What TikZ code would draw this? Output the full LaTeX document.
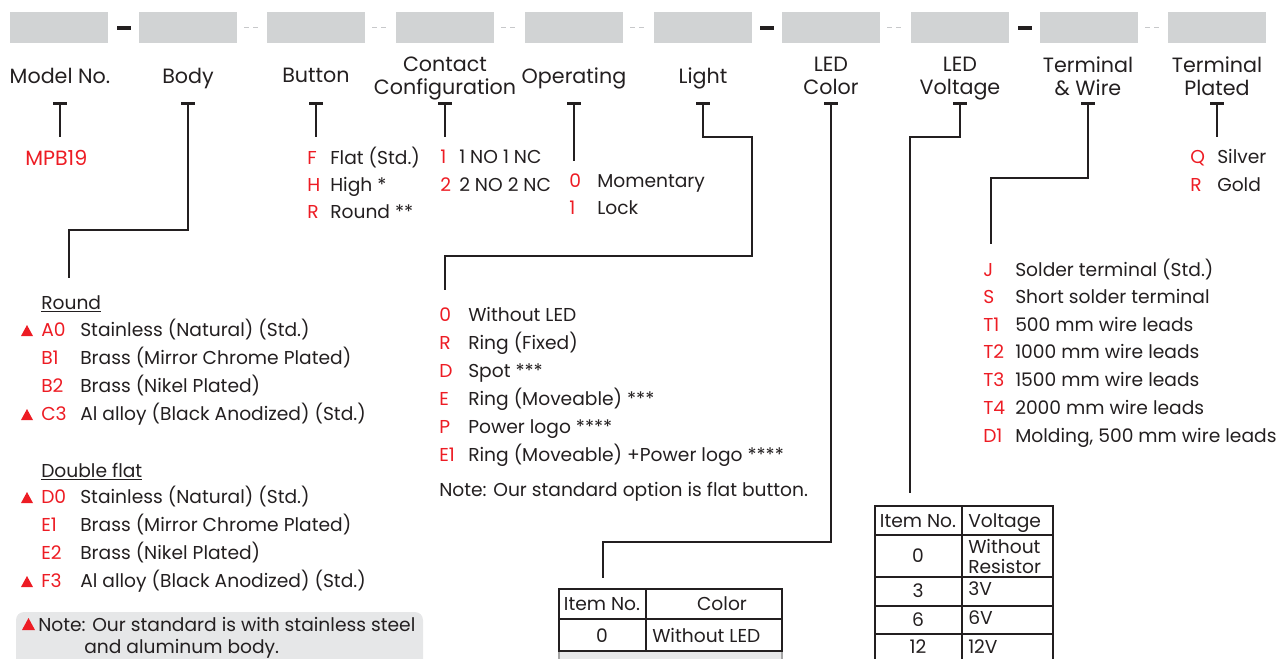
\documentclass[tikz,border=0pt]{standalone}
\usepackage{fontspec}
\setmainfont{Poppins}
\definecolor{myred}{HTML}{ED1C24}
\definecolor{ink}{HTML}{231F20}
\definecolor{barg}{HTML}{D1D3D4}
\definecolor{dashg}{HTML}{C7C8CA}
\definecolor{noteg}{HTML}{E6E7E8}
\newcommand\labfs{\fontsize{15.5pt}{17.25pt}\selectfont}
\newcommand\bodyfs{\fontsize{14pt}{15pt}\selectfont}
\begin{document}
\begin{tikzpicture}[x=0.75pt,y=-0.75pt,
  segbox/.style={fill=barg,draw=none,minimum width=73.5pt,minimum height=23.25pt,inner sep=0pt},
  blackdash/.style={line width=3pt,ink},
  greydash/.style={line width=0.8pt,dashg,dash pattern=on 3.6pt off 3pt},
  lab/.style={text=ink,font=\labfs,align=center,inner sep=0pt,anchor=north},
  code/.style={text=myred,font=\bodyfs,anchor=mid west,inner sep=0pt,yshift=-1.9pt},
  desc/.style={text=ink,font=\bodyfs,anchor=mid west,inner sep=0pt,yshift=-1.9pt},
  tcap/.style={line width=2.25pt,ink},
  conn/.style={line width=1.5pt,ink},
  tab/.style={line width=1.1pt,ink},
  cell/.style={text=ink,font=\bodyfs,inner sep=0pt},
  cellw/.style={text=ink,font=\bodyfs,inner sep=0pt,anchor=mid west,align=left,yshift=-1.9pt},
  redtri/.style={fill=myred}
]
\useasboundingbox (0,0) rectangle (1279,658);
% top bar
\foreach \i/\cx in {1/59,2/188,3/316,4/445,5/574,6/703,7/831,8/960,9/1089,10/1217}{
  \node[segbox] (s\i) at (\cx,27.5) {};
}
\draw[blackdash] (s1.east) ++(9,0) -- ++(14,0);
\draw[blackdash] (s6.east) ++(8,0) -- ++(14,0);
\draw[blackdash] (s8.east) ++(9,0) -- ++(14,0);
\foreach \i in {2,3,4,5,7,9}{
  \draw[greydash] (s\i.east) ++(7,0) -- ++(16,0);
}
% labels
\node[lab] (lmodel) at (60,67.5) {Model No.};
\node[lab] (lbody) at (188,67.5) {Body};
\node[lab] (lbutton) at (316,67.5) {Button};
\node[lab] (lcontact) at (445,56.5) {Contact\\Configuration};
\node[lab] (loper) at (574,67.5) {Operating};
\node[lab] (llight) at (703,67.5) {Light};
\node[lab] (lcolor) at (831,56.5) {LED\\Color};
\node[lab] (lvolt) at (960,56.5) {LED\\Voltage};
\node[lab] (lwire) at (1088,56.5) {Terminal\\\&{} Wire};
\node[lab] (lplated) at (1217,56.5) {Terminal\\Plated};
% T caps
\foreach \n/\cx in {tmodel/60,tbody/188,tbutton/316,tcontact/445,toper/574,tlight/703,tcolor/831,tvolt/960,twire/1088,tplated/1217}{
  \coordinate (\n) at (\cx,103);
  \draw[tcap] (\cx-7,103) -- (\cx+7,103);
}
% end coordinates
\coordinate (emodel) at (60,137);
\coordinate (ebutton) at (316,137);
\coordinate (econtact) at (445,137);
\coordinate (eoper) at (574,161);
\coordinate (eplated) at (1217,137);
\coordinate (kbody) at (69,230);
\coordinate (ebody) at (69,278);
\coordinate (klight1) at (752,137);
\coordinate (klight2) at (445,256);
\coordinate (elight) at (445,290);
\coordinate (kcolor) at (603,542);
\coordinate (ecolor) at (603,578);
\coordinate (kvolt) at (910,137);
\coordinate (evolt) at (910,493);
\coordinate (kwire) at (991,178);
\coordinate (ewire) at (991,244);
\draw[conn] (tmodel) -- (emodel);
\draw[conn] (tbutton) -- (ebutton);
\draw[conn] (tcontact) -- (econtact);
\draw[conn] (toper) -- (eoper);
\draw[conn] (tplated) -- (eplated);
\draw[conn] (tbody) |- (kbody) -- (ebody);
\draw[conn] (tlight) |- (klight1) |- (klight2) -- (elight);
\draw[conn] (tcolor) |- (kcolor) -- (ecolor);
\draw[conn] (tvolt) |- (kvolt) -- (evolt);
\draw[conn] (twire) |- (kwire) -- (ewire);
% Model
\node[code,font=\labfs] (mpb) at (25,159) {MPB19};
% Button
\node[code] (bF) at (307,158) {F}; \node[desc] (bFd) at (330,158) {Flat (Std.)};
\node[code] (bH) at (307,185) {H}; \node[desc] (bHd) at (330,185) {High *};
\node[code] (bR) at (307,212) {R}; \node[desc] (bRd) at (330,212) {Round **};
% Contact
\node[code] (c1) at (440,157) {1}; \node[desc] (c1d) at (459,157) {1 NO 1 NC};
\node[code] (c2) at (440,185) {2}; \node[desc] (c2d) at (459,185) {2 NO 2 NC};
% Operating
\node[code] (o0) at (569,181) {0}; \node[desc] (o0d) at (597,181) {Momentary};
\node[code] (o1) at (569,208) {1}; \node[desc] (o1d) at (597,208) {Lock};
% Plated
\node[code] (pQ) at (1190,157) {Q}; \node[desc] (pQd) at (1217,157) {Silver};
\node[code] (pR) at (1190,185) {R}; \node[desc] (pRd) at (1217,185) {Gold};
% Body
\node[desc] (hround) at (41,303) {\underline{Round}};
\fill[redtri] (21,336) -- (33,336) -- (27,325) -- cycle;
\node[code] (A0) at (41,330) {A0}; \node[desc] (A0d) at (80,330) {Stainless (Natural) (Std.)};
\node[code] (B1) at (41,358) {B1}; \node[desc] (B1d) at (80,358) {Brass (Mirror Chrome Plated)};
\node[code] (B2) at (41,386) {B2}; \node[desc] (B2d) at (80,386) {Brass (Nikel Plated)};
\fill[redtri] (21,420) -- (33,420) -- (27,409) -- cycle;
\node[code] (C3) at (41,414) {C3}; \node[desc] (C3d) at (80,414) {Al alloy (Black Anodized) (Std.)};
\node[desc] (hdouble) at (41,471) {\underline{Double flat}};
\fill[redtri] (21,503) -- (33,503) -- (27,492) -- cycle;
\node[code] (D0) at (41,497) {D0}; \node[desc] (D0d) at (80,497) {Stainless (Natural) (Std.)};
\node[code] (E1b) at (41,525) {E1}; \node[desc] (E1bd) at (80,525) {Brass (Mirror Chrome Plated)};
\node[code] (E2b) at (41,553) {E2}; \node[desc] (E2bd) at (80,553) {Brass (Nikel Plated)};
\fill[redtri] (21,587) -- (33,587) -- (27,576) -- cycle;
\node[code] (F3) at (41,581) {F3}; \node[desc] (F3d) at (80,581) {Al alloy (Black Anodized) (Std.)};
% note box
\fill[noteg,rounded corners=6pt] (16,612) rectangle (423,690);
\fill[redtri] (22,630) -- (35,630) -- (28.5,618) -- cycle;
\node[desc] (note1) at (38,625) {Note: Our standard is with stainless steel};
\node[desc] (note2) at (84,647) {and aluminum body.};
% Light
\node[code] (L0) at (439,315) {0}; \node[desc] (L0d) at (468,315) {Without LED};
\node[code] (LR) at (439,343) {R}; \node[desc] (LRd) at (468,343) {Ring (Fixed)};
\node[code] (LD) at (439,371) {D}; \node[desc] (LDd) at (468,371) {Spot ***};
\node[code] (LE) at (439,399) {E}; \node[desc] (LEd) at (468,399) {Ring (Moveable) ***};
\node[code] (LP) at (439,427) {P}; \node[desc] (LPd) at (468,427) {Power logo ****};
\node[code] (LE1) at (439,455) {E1}; \node[desc] (LE1d) at (468,455) {Ring (Moveable) +Power logo ****};
\node[desc] (Lnote) at (439,490) {Note: Our standard option is flat button.};
% Terminal & wire
\node[code] (wJ) at (983,270) {J}; \node[desc] (wJd) at (1015,270) {Solder terminal (Std.)};
\node[code] (wS) at (983,297) {S}; \node[desc] (wSd) at (1015,297) {Short solder terminal};
\node[code] (wT1) at (983,325) {T1}; \node[desc] (wT1d) at (1015,325) {500 mm wire leads};
\node[code] (wT2) at (983,352) {T2}; \node[desc] (wT2d) at (1015,352) {1000 mm wire leads};
\node[code] (wT3) at (983,380) {T3}; \node[desc] (wT3d) at (1015,380) {1500 mm wire leads};
\node[code] (wT4) at (983,408) {T4}; \node[desc] (wT4d) at (1015,408) {2000 mm wire leads};
\node[code] (wD1) at (983,436) {D1}; \node[desc] (wD1d) at (1015,436) {Molding, 500 mm wire leads};
% Color table
\fill[noteg] (559,651) rectangle (782,690);
\draw[line width=0.8pt,black!35] (559,651) -- (559,690) (782,651) -- (782,690);
\draw[tab] (559,589) rectangle (782,651);
\draw[tab] (559,619) -- (782,619);
\draw[tab] (646,589) -- (646,651);
\node[cell] (ct1) at (602,604) {Item No.};
\node[cell] (ct2) at (722,604) {Color};
\node[cell] (ct3) at (602,636) {0};
\node[cellw] (ct4) at (652,636) {Without LED};
% Voltage table
\draw[tab] (875,690) -- (875,506) -- (1053,506) -- (1053,690);
\draw[tab] (962,506) -- (962,690);
\foreach \yy in {535,577,606,634}{ \draw[tab] (875,\yy) -- (1053,\yy); }
\node[cell] (vt1) at (918,521) {Item No.};
\node[cellw] (vt2) at (968,521) {Voltage};
\node[cell] (vt3) at (918,556) {0};
\node[text=ink,inner sep=0pt,anchor=west,align=left,font=\fontsize{14pt}{15pt}\selectfont] (vt4) at (968,556) {Without\\Resistor};
\node[cell] (vt5) at (918,591) {3};
\node[cellw] (vt6) at (968,589) {3V};
\node[cell] (vt7) at (918,620) {6};
\node[cellw] (vt8) at (968,618) {6V};
\node[cell] (vt9) at (918,647) {12};
\node[cellw] (vt10) at (968,647) {12V};
\end{tikzpicture}
\end{document}
